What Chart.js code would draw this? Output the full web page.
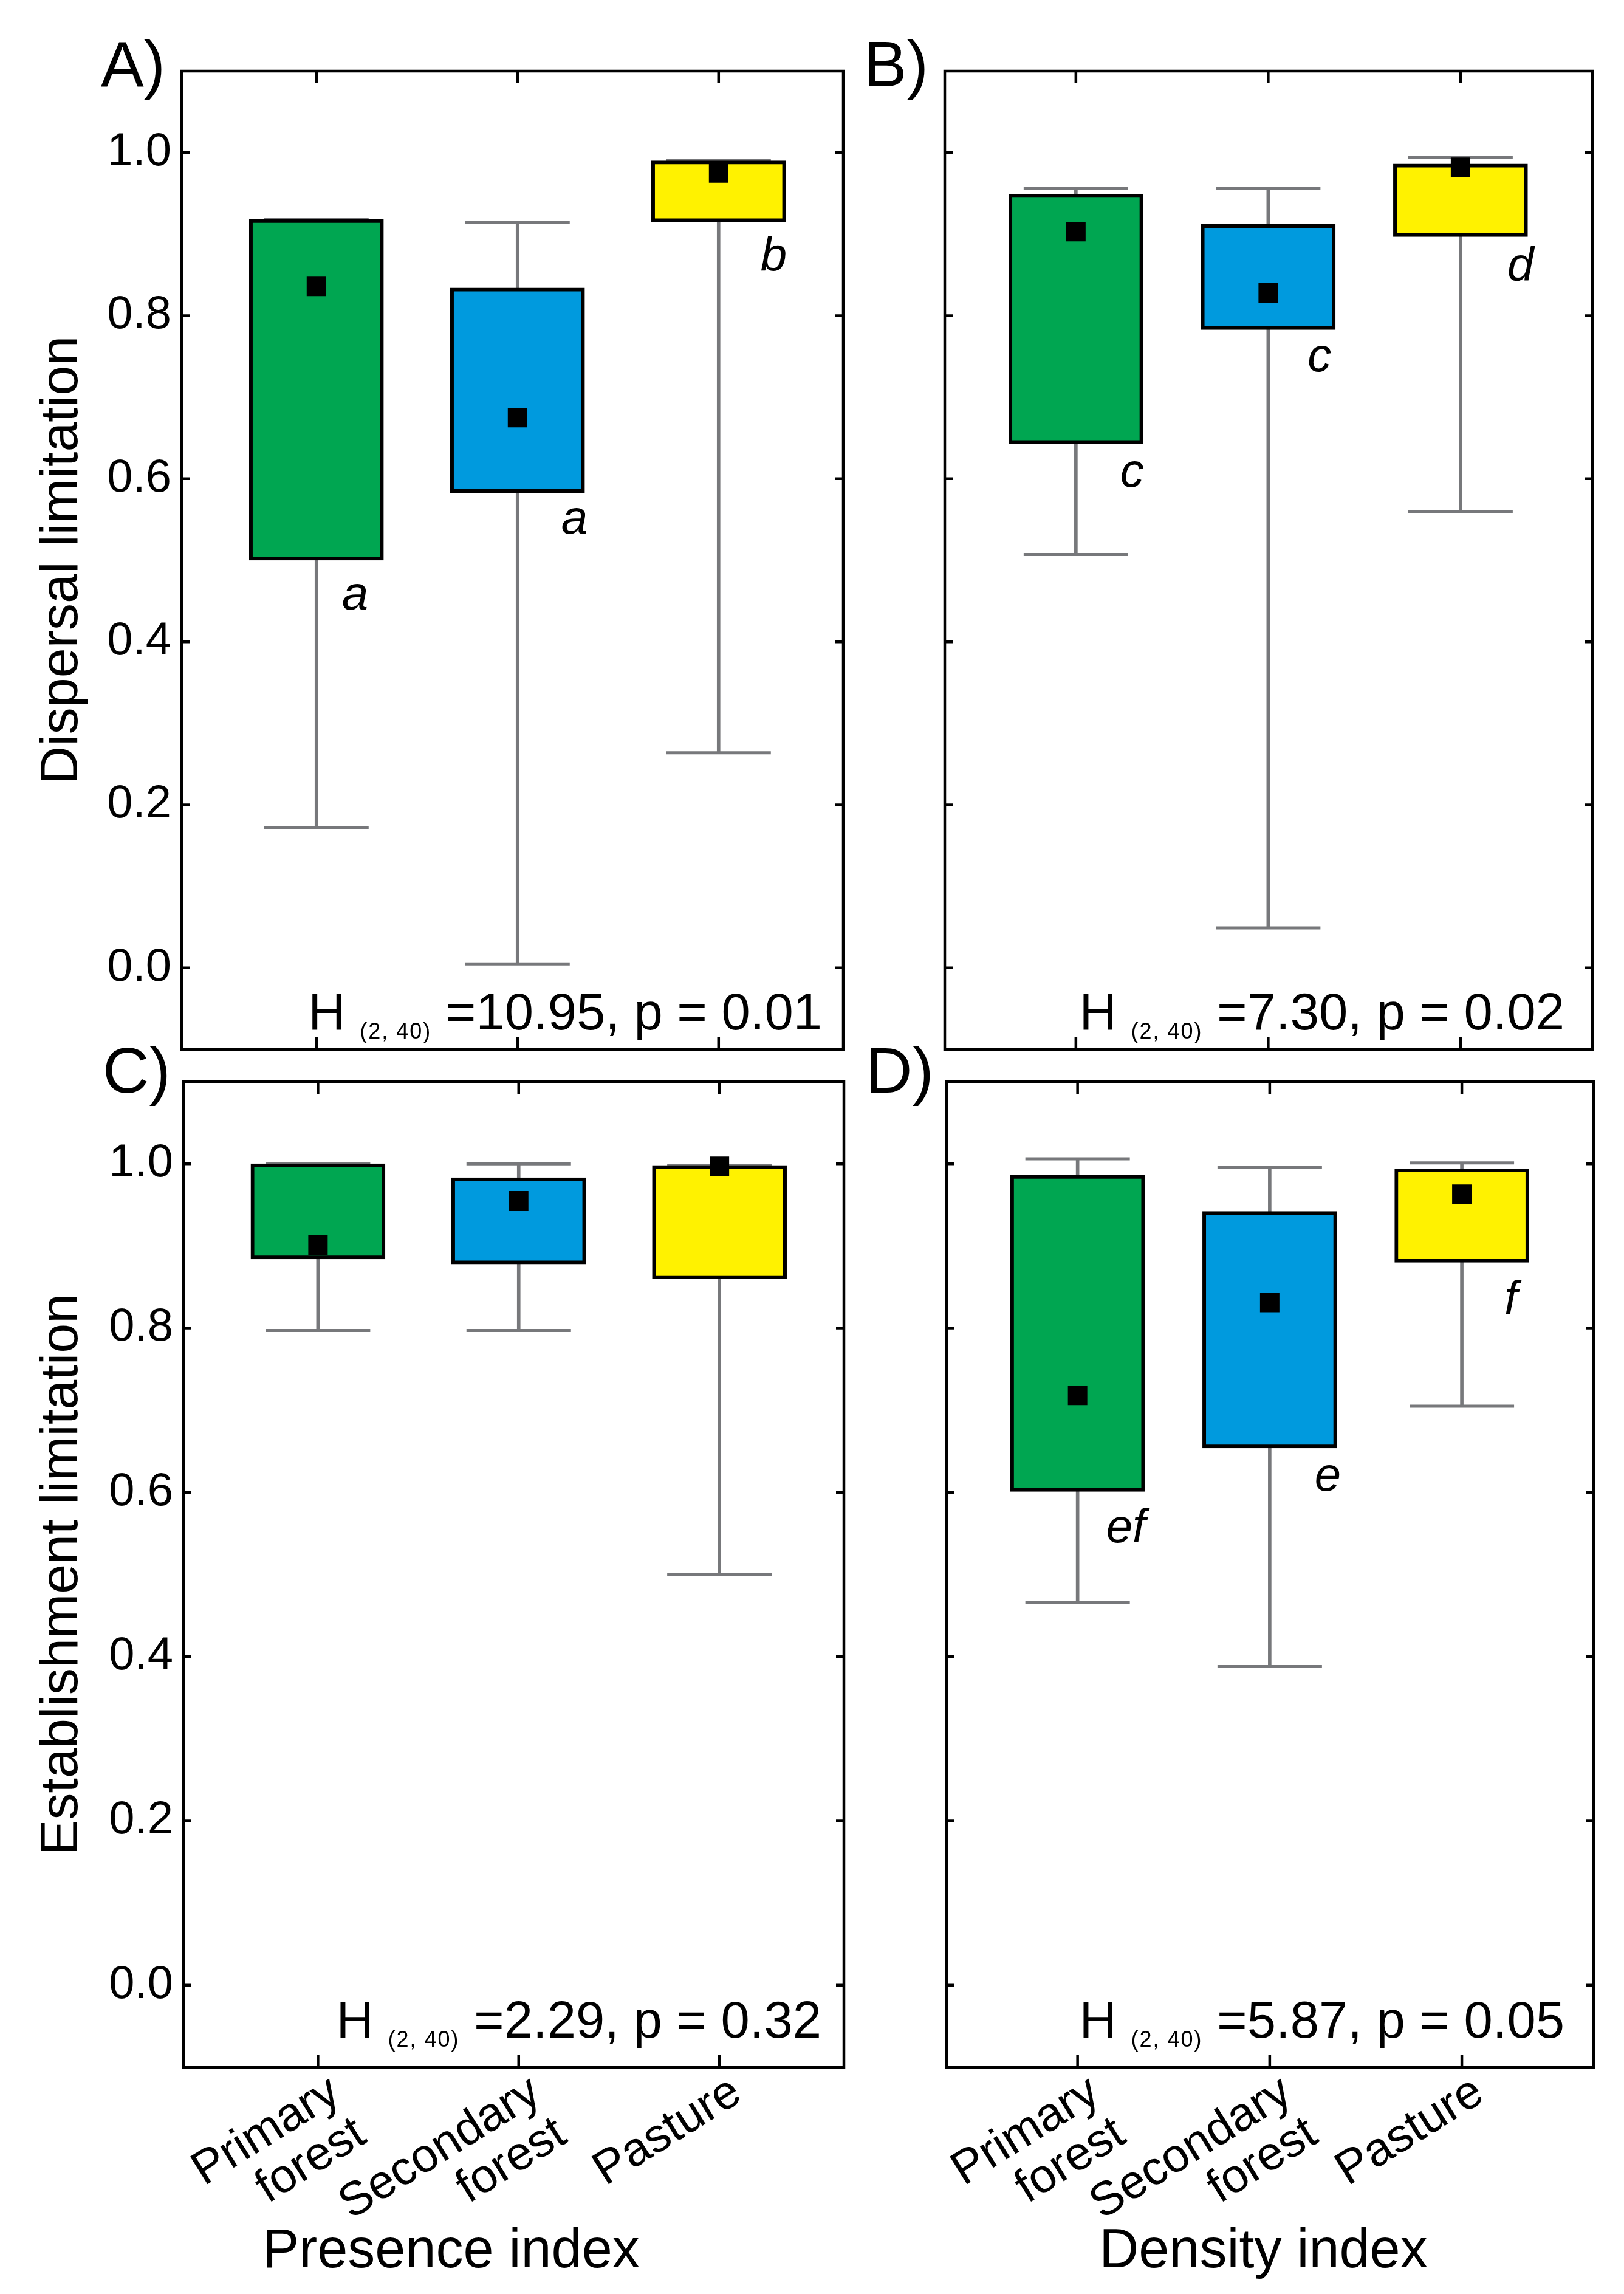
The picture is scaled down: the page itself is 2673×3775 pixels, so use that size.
<!DOCTYPE html>
<html>
<head>
<meta charset="utf-8">
<script src="https://cdn.jsdelivr.net/npm/chart.js@4.4.0/dist/chart.umd.min.js"></script>
<style>
  html, body { margin: 0; padding: 0; background: #fff; }
  body { width: 2673px; height: 3775px; position: relative; overflow: hidden; }
  canvas { position: absolute; }
</style>
</head>
<body>
<canvas id="panelA" width="1440" height="1755" style="left:0px;top:0px"></canvas>
<canvas id="panelB" width="1273" height="1755" style="left:1400px;top:0px"></canvas>
<canvas id="panelC" width="1440" height="2085" style="left:0px;top:1690px"></canvas>
<canvas id="panelD" width="1273" height="2085" style="left:1400px;top:1690px"></canvas>
<script>
// categories and ticks
const siteLabels = [['Primary', 'forest'], ['Secondary', 'forest'], ['Pasture']];
const siteX = [1, 2, 3];
const yTicks = [0, 0.2, 0.4, 0.6, 0.8, 1.0];
const boxColors = ['#00a651', '#009ade', '#fff200'];

// A) presence index, dispersal limitation
const presDispQ1 = [0.500, 0.583, 0.915];
const presDispQ3 = [0.918, 0.834, 0.990];
const presDispMin = [0.172, 0.005, 0.264];
const presDispMax = [0.918, 0.914, 0.990];
const presDispMean = [0.836, 0.675, 0.975];
const presDispLetters = ['a', 'a', 'b'];
const presDispLetterY = [0.440, 0.533, 0.855];

// B) density index, dispersal limitation
const densDispQ1 = [0.643, 0.783, 0.897];
const densDispQ3 = [0.949, 0.912, 0.986];
const densDispMin = [0.507, 0.049, 0.560];
const densDispMax = [0.956, 0.956, 0.994];
const densDispMean = [0.903, 0.828, 0.982];
const densDispLetters = ['c', 'c', 'd'];
const densDispLetterY = [0.590, 0.732, 0.843];

// C) presence index, establishment limitation
const presEstQ1 = [0.884, 0.878, 0.860];
const presEstQ3 = [1.000, 0.983, 0.998];
const presEstMin = [0.797, 0.797, 0.500];
const presEstMax = [1.000, 1.000, 0.998];
const presEstMean = [0.901, 0.955, 0.997];

// D) density index, establishment limitation
const densEstQ1 = [0.601, 0.654, 0.880];
const densEstQ3 = [0.986, 0.942, 0.994];
const densEstMin = [0.466, 0.388, 0.705];
const densEstMax = [1.006, 0.996, 1.001];
const densEstMean = [0.718, 0.831, 0.963];
const densEstLetters = ['ef', 'e', 'f'];
const densEstLetterY = [0.539, 0.602, 0.817];

// Kruskal-Wallis results
const statSub = '(2, 40)';
const statText = ['=10.95, p = 0.01', '=7.30, p = 0.02', '=2.29, p = 0.32', '=5.87, p = 0.05'];

const FONT = "'Liberation Sans', Arial, Helvetica, sans-serif";
const grey = '#77787b';

// frame, inward ticks and all the loose text of a panel
const panelDecor = {
    id: 'panelDecor',
    afterDatasetsDraw(chart, args, o) {
        const ctx = chart.ctx;
        const a = chart.chartArea;
        const xs = chart.scales.x, ys = chart.scales.y;
        ctx.save();

        // box round the plot and inward ticks on all four sides
        ctx.strokeStyle = '#000';
        ctx.lineWidth = 4.5;
        ctx.strokeRect(a.left, a.top, a.right - a.left, a.bottom - a.top);
        ctx.beginPath();
        ys.ticks.forEach(t => {
            const py = ys.getPixelForValue(t.value);
            ctx.moveTo(a.left, py); ctx.lineTo(a.left + 13, py);
            ctx.moveTo(a.right, py); ctx.lineTo(a.right - 13, py);
        });
        xs.ticks.forEach(t => {
            const px = xs.getPixelForValue(t.value);
            ctx.moveTo(px, a.top); ctx.lineTo(px, a.top + 20);
            ctx.moveTo(px, a.bottom); ctx.lineTo(px, a.bottom - 20);
        });
        ctx.stroke();

        ctx.fillStyle = '#000';
        ctx.textBaseline = 'alphabetic';

        // group letters
        if (o.letters) {
            ctx.font = `italic 78px ${FONT}`;
            ctx.textAlign = 'left';
            o.letters.forEach((l, i) => {
                ctx.fillText(l, xs.getPixelForValue(siteX[i]) + o.letterDx[i], ys.getPixelForValue(o.letterY[i]));
            });
        }

        // panel tag
        ctx.font = `106px ${FONT}`;
        ctx.textAlign = 'left';
        ctx.fillText(o.tag, a.left - 133, a.top + o.tagDy);

        // H statistic, right aligned
        const big = `85px ${FONT}`, small = `36px ${FONT}`;
        const p1 = 'H ', p3 = ' ' + o.stat;
        ctx.font = big;
        const w1 = ctx.measureText(p1).width, w3 = ctx.measureText(p3).width;
        ctx.font = small;
        ctx.letterSpacing = '2px';
        const w2 = ctx.measureText(statSub).width;
        let x = a.right - o.statRight - w1 - w2 - w3;
        const base = a.bottom - o.statUp;
        ctx.fillText(statSub, x + w1, base + 15);
        ctx.letterSpacing = '0px';
        ctx.font = big;
        ctx.fillText(p1, x, base);
        ctx.fillText(p3, x + w1 + w2, base);

        // x axis title
        if (o.xTitle) {
            ctx.font = `90px ${FONT}`;
            ctx.textAlign = 'center';
            ctx.fillText(o.xTitle, (a.left + a.right) / 2 + o.xTitleDx, a.bottom + 329);
        }
        ctx.restore();
    }
};

function boxChart(id, p) {
    const pts = vals => vals.map((v, i) => ({x: siteX[i], y: v}));
    const ranges = (lo, hi) => lo.map((v, i) => ({x: siteX[i], y: [v, hi[i]]}));
    return new Chart(document.getElementById(id), {
        type: 'bar',
        data: {
            datasets: [
                {   // means
                    type: 'line', data: pts(p.mean), showLine: false, order: 0,
                    pointStyle: 'rect', pointRadius: 22.6, pointBackgroundColor: '#000', pointBorderWidth: 0
                },
                {   // boxes
                    type: 'bar', data: ranges(p.q1, p.q3), order: 1, grouped: false,
                    backgroundColor: boxColors, borderColor: '#000', borderWidth: 6, borderSkipped: false,
                    barThickness: 221, maxBarThickness: 221
                },
                {   // whisker caps
                    type: 'line', data: pts(p.lo).concat(pts(p.hi)), showLine: false, order: 2,
                    pointStyle: 'line', pointRadius: 86, pointBorderColor: grey, pointBorderWidth: 5
                },
                {   // whisker stems
                    type: 'bar', data: ranges(p.lo, p.hi), order: 3, grouped: false,
                    backgroundColor: grey, borderWidth: 0, barThickness: 5, maxBarThickness: 5
                }
            ]
        },
        options: {
            responsive: false,
            animation: false,
            devicePixelRatio: 1,
            events: [],
            layout: {padding: p.pad, autoPadding: false},
            plugins: {
                legend: {display: false},
                tooltip: {enabled: false},
                panelDecor: p.decor
            },
            scales: {
                x: {
                    type: 'linear', min: p.xMin, max: p.xMax, offset: false,
                    grid: {display: false, drawTicks: false}, border: {display: false},
                    afterBuildTicks: s => { s.ticks = siteX.map(v => ({value: v})); },
                    afterFit: s => { s.height = p.xAxisH; s.paddingLeft = 0; s.paddingRight = 0; },
                    ticks: {
                        display: p.showX, autoSkip: false, minRotation: 32, maxRotation: 32,
                        padding: 1, labelOffset: 29,
                        color: '#000', font: {family: FONT, size: 78, lineHeight: 1.03},
                        callback: (v, i) => siteLabels[i]
                    }
                },
                y: {
                    type: 'linear', min: -0.1, max: 1.1,
                    grid: {display: false, drawTicks: false}, border: {display: false},
                    afterBuildTicks: s => { s.ticks = yTicks.map(v => ({value: v})); },
                    afterFit: s => { s.width = p.yAxisW; s.paddingTop = 0; s.paddingBottom = 0; },
                    ticks: {
                        display: p.showY, padding: 17, color: '#000',
                        font: {family: FONT, size: 76},
                        callback: v => v.toFixed(1)
                    },
                    title: {
                        display: !!p.yTitle, text: p.yTitle || '', color: '#000',
                        font: {family: FONT, size: 88}, padding: {top: 50, bottom: 0}
                    }
                }
            }
        },
        plugins: [panelDecor]
    });
}

boxChart('panelA', {
    q1: presDispQ1, q3: presDispQ3, lo: presDispMin, hi: presDispMax, mean: presDispMean,
    xMin: 0.33, xMax: 3.62, yAxisW: 299, xAxisH: 0, showX: false, showY: true,
    yTitle: 'Dispersal limitation',
    pad: {left: 0, top: 117, right: 52, bottom: 28},
    decor: {tag: 'A)', tagDy: 25, stat: statText[0], statRight: 35, statUp: 33,
            letters: presDispLetters, letterY: presDispLetterY, letterDx: [42, 72, 69]}
});

boxChart('panelB', {
    q1: densDispQ1, q3: densDispQ3, lo: densDispMin, hi: densDispMax, mean: densDispMean,
    xMin: 0.318, xMax: 3.686, yAxisW: 155, xAxisH: 0, showX: false, showY: false,
    pad: {left: 0, top: 117, right: 52, bottom: 28},
    decor: {tag: 'B)', tagDy: 25, stat: statText[1], statRight: 46, statUp: 33,
            letters: densDispLetters, letterY: densDispLetterY, letterDx: [73, 65, 77]}
});

boxChart('panelC', {
    q1: presEstQ1, q3: presEstQ3, lo: presEstMin, hi: presEstMax, mean: presEstMean,
    xMin: 0.33, xMax: 3.62, yAxisW: 302, xAxisH: 373, showX: true, showY: true,
    yTitle: 'Establishment limitation',
    pad: {left: 0, top: 90, right: 51, bottom: 0},
    decor: {tag: 'C)', tagDy: 18, stat: statText[2], statRight: 37, statUp: 49,
            xTitle: 'Presence index', xTitleDx: -103}
});

boxChart('panelD', {
    q1: densEstQ1, q3: densEstQ3, lo: densEstMin, hi: densEstMax, mean: densEstMean,
    xMin: 0.318, xMax: 3.686, yAxisW: 158, xAxisH: 373, showX: true, showY: false,
    pad: {left: 0, top: 90, right: 50, bottom: 0},
    decor: {tag: 'D)', tagDy: 18, stat: statText[3], statRight: 48, statUp: 49,
            letters: densEstLetters, letterY: densEstLetterY, letterDx: [47, 74, 70],
            xTitle: 'Density index', xTitleDx: -11}
});
</script>
</body>
</html>
